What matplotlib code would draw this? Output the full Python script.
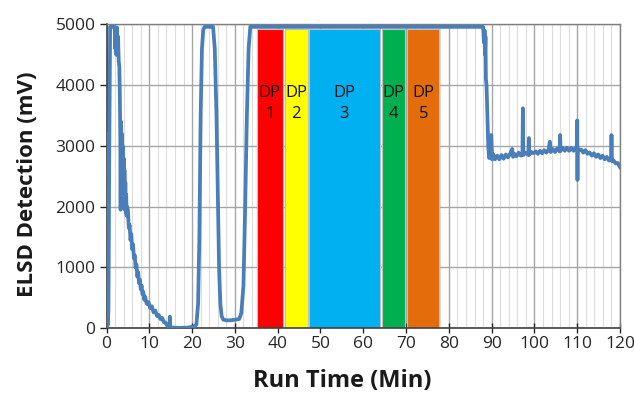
import numpy as np
import matplotlib.pyplot as plt
from matplotlib.ticker import MultipleLocator

plt.rcParams['font.family'] = ['Open Sans', 'DejaVu Sans']

# ELSD trace (min, mV)
time_min = [0.0, 0.12, 0.3, 0.45, 0.65, 0.85, 1.3, 1.9, 2.05, 2.15, 2.3, 2.45, 2.55, 2.7, 2.85,
            3.0, 3.1, 3.2, 3.3, 3.4, 3.5, 3.6, 3.7, 3.8, 3.9, 4.0, 4.1, 4.2, 4.3, 4.4, 4.5, 4.6, 4.7,
            4.8, 5.0, 5.2, 5.4, 5.6, 5.8, 6.0, 6.2, 6.4, 6.6, 6.8, 7.0, 7.2, 7.4, 7.6, 7.8, 8.0, 8.2,
            8.4, 8.6, 8.8, 9.0,
            9.4, 9.8, 10.2, 10.6, 11.0, 11.4, 11.8, 12.2, 12.6, 13.0, 13.4, 13.8, 14.1,
            14.5, 14.7, 14.8, 14.9, 15.5, 17.0, 19.0, 20.5,
            21.0, 21.4, 21.7, 22.0, 22.3, 22.6, 22.9, 24.9, 25.3, 25.7, 26.0, 26.3, 26.6,
            26.9, 27.3, 28.0, 29.0, 30.0, 31.0, 31.5, 32.0, 32.4, 32.8, 33.2, 33.6,
            88.0, 88.2, 88.35, 88.45, 88.55, 88.65, 88.8, 89.0, 89.2, 89.4, 89.6, 89.9,
            90.1, 90.4, 90.8, 91.3, 91.8, 92.3, 92.8, 93.3, 93.8, 94.3, 94.8, 95.0,
            95.3, 95.8, 96.3, 96.8, 97.2, 97.3, 97.4, 97.9, 98.6, 98.7, 98.8, 99.3,
            99.8, 100.3, 100.8, 101.3, 101.8, 102.3, 102.8, 103.3, 103.6, 103.8,
            104.3, 104.8, 105.3, 105.9, 106.0, 106.1, 106.6, 107.1, 107.6, 108.1,
            108.6, 109.1, 109.6, 109.9, 110.0, 110.05, 110.1, 110.4, 110.9, 111.4,
            111.9, 112.4, 112.9, 113.4, 113.9, 114.4, 114.9, 115.4, 115.9, 116.4,
            116.9, 117.4, 117.9, 118.0, 118.1, 118.5, 119.0, 119.5, 120.0]
signal_mv = [0, 3200, 50, 300, 3000, 4960, 4960, 4960, 4600, 4900, 4500, 4950, 4550, 4800, 4400,
             4300, 3900, 3300, 1950, 3400, 2100, 3200, 2300, 3000, 2200, 2800, 2000, 2600, 1950, 2400, 1900, 2200, 1850,
             2000, 1950, 1650, 1700, 1450, 1550, 1300, 1380, 1150, 1200, 1000, 1050, 850, 920, 740, 800, 640, 700,
             560, 600, 470, 520,
             400, 430, 330, 360, 260, 290, 200, 220, 150, 170, 100, 90, 50,
             20, 10, 190, 10, 10, 5, 10, 30,
             60, 400, 1500, 3500, 4600, 4900, 4960, 4960, 4600, 3500, 2200, 1000, 400,
             200, 140, 130, 130, 140, 150, 250, 700, 2000, 3500, 4600, 4960,
             4960, 4700, 4900, 4500, 4800, 4100, 4000, 3500, 3000, 2800, 2850, 3180,
             2780, 2860, 2780, 2840, 2780, 2850, 2790, 2860, 2810, 2870, 2950, 2820,
             2870, 2830, 2890, 2840, 2880, 3620, 2850, 2890, 2850, 3130, 2860, 2900,
             2880, 2910, 2870, 2920, 2880, 2930, 2890, 2940, 3070, 2900,
             2950, 2900, 2960, 2910, 3180, 2920, 2970, 2920, 2970, 2920,
             2970, 2920, 2970, 2930, 3420, 2440, 2960, 2930, 2940, 2890,
             2930, 2870, 2890, 2840, 2880, 2820, 2860, 2800, 2840, 2780,
             2820, 2760, 2790, 3180, 2750, 2760, 2710, 2720, 2650]

# fraction windows (min)
dp_labels = ["DP\n1", "DP\n2", "DP\n3", "DP\n4", "DP\n5"]
dp_start = [35.1, 41.7, 47.2, 64.3, 70.3]
dp_end = [41.2, 47.0, 63.8, 69.8, 77.8]
dp_top = 4930
dp_colors = ["#FF0000", "#FFFF00", "#00B0F0", "#00B050", "#E46C0A"]

fig = plt.figure(figsize=(6.34, 3.94), dpi=100)
ax = fig.add_axes([0.168, 0.167, 0.81, 0.771])

ax.xaxis.set_major_locator(MultipleLocator(10))
ax.xaxis.set_minor_locator(MultipleLocator(2))
ax.yaxis.set_major_locator(MultipleLocator(1000))
ax.grid(which="minor", axis="x", color="#dcdcdc", linewidth=0.8)
ax.grid(which="major", axis="x", color="#a6a6a6", linewidth=1.0)
ax.grid(which="major", axis="y", color="#a6a6a6", linewidth=1.0)
ax.set_axisbelow(True)

widths = [e - s for s, e in zip(dp_start, dp_end)]
ax.bar(dp_start, dp_top, width=widths, align="edge", color=dp_colors,
       edgecolor="#bfbfbf", linewidth=0.8, zorder=2)
for s, e, lab in zip(dp_start, dp_end, dp_labels):
    ax.text((s + e) / 2, 3700, lab, ha="center", va="center", fontsize=12,
            color="#111111", linespacing=1.45, zorder=3)

ax.plot(time_min, signal_mv, color="#4A7EBB", linewidth=2.7, zorder=4)

ax.set_xlim(0, 120)
ax.set_ylim(0, 5000)
ax.tick_params(axis="x", which="major", direction="inout", length=7, width=1,
               labelsize=12.5, colors="#262626", pad=2)
ax.tick_params(axis="x", which="minor", length=0)
ax.tick_params(axis="y", direction="out", length=5, width=1, labelsize=12.5,
               colors="#262626", pad=3)
for side in ["left", "bottom"]:
    ax.spines[side].set_color("#404040")
    ax.spines[side].set_linewidth(1.2)
for side in ["top", "right"]:
    ax.spines[side].set_color("#7f7f7f")
    ax.spines[side].set_linewidth(1.0)

ax.set_xlabel("Run Time (Min)", fontsize=17, fontweight="bold", color="#1a1a1a")
ax.set_ylabel("ELSD Detection (mV)", fontsize=16, fontweight="bold", color="#1a1a1a")
ax.xaxis.set_label_coords(0.46, -0.133)
ax.yaxis.set_label_coords(-0.134, 0.475)

fig.savefig("out.png", dpi=100)
